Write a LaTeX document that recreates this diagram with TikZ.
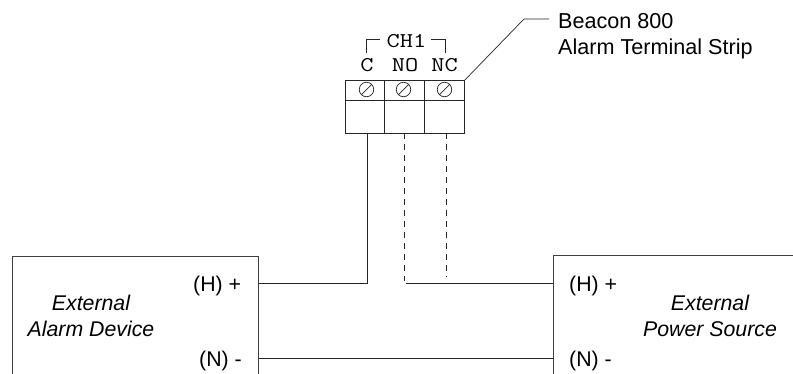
\documentclass[tikz,border=0pt]{standalone}
\usepackage{fontspec}
\setmainfont{Liberation Sans}
\setmonofont{Latin Modern Mono}
\newcommand{\monotxt}[1]{\scalebox{1.22}[1]{#1}}
\tikzset{
  wire/.style={draw=black!85,line width=0.8pt},
  dashwire/.style={wire,dash pattern=on 6pt off 5pt,line width=0.7pt},
  boxline/.style={draw=black!75,line width=1pt},
  cell/.style={draw=black!85,line width=0.9pt,minimum height=#1,inner sep=0pt,anchor=north west},
  screw/.style={circle,draw=black!85,line width=0.7pt,minimum size=14.5pt,inner sep=0pt},
  lab/.style={font=\fontsize{21.3}{21}\selectfont,inner sep=0pt,anchor=base west},
  ital/.style={font=\fontsize{21.3}{24}\selectfont\itshape,inner sep=0pt,anchor=base},
  mono/.style={font=\fontsize{21}{21}\selectfont\ttfamily,inner sep=0pt,anchor=base}
}
\begin{document}
\begin{tikzpicture}[x=1pt,y=-1pt]
\useasboundingbox (0,0) rectangle (793,373);
\clip (0,0) rectangle (793,373);
% boxes open at the picture edge
\node[boxline,rectangle,inner sep=0pt,anchor=north west,minimum width=246pt,minimum height=160pt] (alarm) at (11.5,255.5) {};
\node[boxline,rectangle,inner sep=0pt,anchor=north west,minimum width=300pt,minimum height=160pt] (power) at (552.5,255) {};
% terminal strip
\node[cell=20pt,minimum width=39pt] (t1) at (345,80) {};
\node[cell=20pt,minimum width=40pt] (t2) at (384,80) {};
\node[cell=20pt,minimum width=40pt] (t3) at (424,80) {};
\node[cell=33pt,minimum width=39pt] (b1) at (345,100) {};
\node[cell=33pt,minimum width=40pt] (b2) at (384,100) {};
\node[cell=33pt,minimum width=40pt] (b3) at (424,100) {};
\foreach \n/\x in {s1/366.5,s2/403.5,s3/444.5}{
  \node[screw] (\n) at (\x,89.5) {};
  \draw[line width=0.7pt,black!85] (\n.south west) -- (\n.north east);
}
% terminal labels
\node[mono] (lc) at (367,71.5) {\monotxt{C}};
\node[mono] (lno) at (405,71.5) {\monotxt{NO}};
\node[mono] (lnc) at (444.5,71.5) {\monotxt{NC}};
\node[mono] (lch) at (406.5,47) {\monotxt{CH1}};
\coordinate (brl) at (366,53);
\coordinate (brlt) at (380,39.5);
\coordinate (brr) at (445,53);
\coordinate (brrt) at (431,39.5);
\draw[wire,line width=1pt] (brl) |- (brlt);
\draw[wire,line width=1pt] (brr) |- (brrt);
% leader
\node[lab,font=\fontsize{21.6}{21}\selectfont] (beacon) at (558,28) {Beacon 800};
\node[lab,font=\fontsize{21.6}{21}\selectfont] (strip) at (558,54.5) {Alarm Terminal Strip};
\coordinate (lead) at (524,19);
\coordinate (leadend) at (549,19);
\draw[wire,line width=0.7pt] (t3.north east) -- (lead) -- (leadend);
% device labels
\node[ital] (a1) at (91,310.5) {External};
\node[ital] (a2) at (91,336.5) {Alarm Device};
\node[ital] (p1) at (710,310.5) {External};
\node[ital] (p2) at (710,336.5) {Power Source};
\node[lab] (ah) at (193,291.5) {(H) +};
\node[lab] (an) at (199,366.5) {(N) -};
\node[lab] (ph) at (569,291.5) {(H) +};
\node[lab] (pn) at (569,366.5) {(N) -};
% wiring
\coordinate (hl) at (alarm.north east |- 0,283);
\coordinate (hr) at (power.north west |- 0,283);
\coordinate (nl) at (alarm.north east |- 0,358.5);
\coordinate (nr) at (power.north west |- 0,358.5);
\coordinate (cdrop) at (367,133);
\coordinate (nodrop) at (404.5,133);
\coordinate (ncdrop) at (446,133);
\coordinate (nojoin) at (404.5,281);
\coordinate (ncend) at (446,277);
\coordinate (hstart) at (405.5,283);
\draw[wire] (hl) -| (cdrop);
\draw[wire] (hstart) -- (hr);
\draw[wire] (nl) -- (nr);
\draw[dashwire] (nodrop) -- (nojoin);
\draw[dashwire] (ncdrop) -- (ncend);
\end{tikzpicture}
\end{document}
